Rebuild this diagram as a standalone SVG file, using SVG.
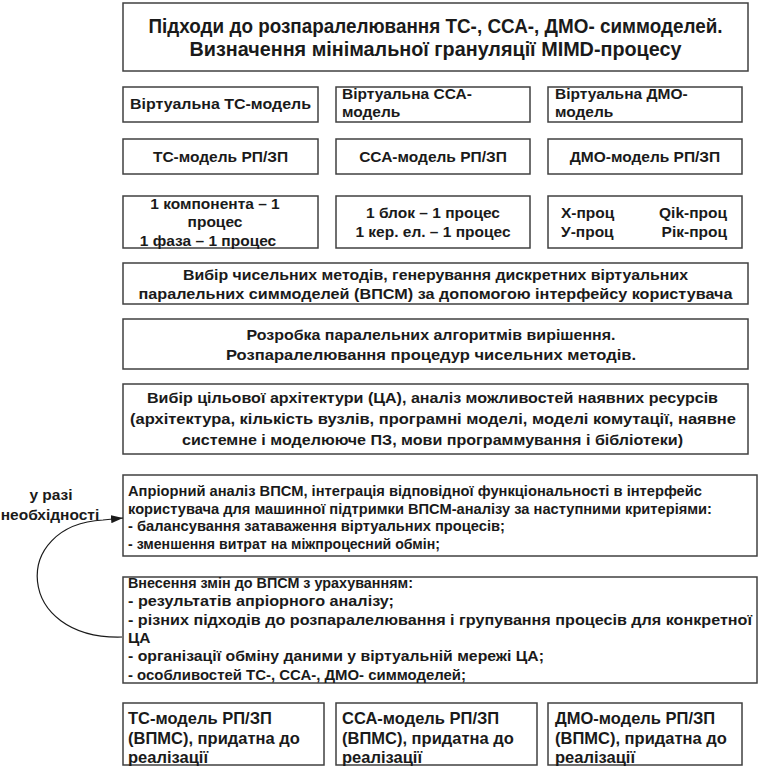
<svg xmlns="http://www.w3.org/2000/svg" width="761" height="770" viewBox="0 0 761 770">
<style>
rect{fill:#fff;stroke:#404040;stroke-width:1.5}
text{font-family:"Liberation Sans",Arial,sans-serif;font-weight:bold;fill:#1a1a1a;font-size:15.5px}
.t{font-size:20px}
.c{text-anchor:middle}
.b{font-size:16.5px}
.conn{fill:none;stroke:#1a1a1a;stroke-width:1.2}
</style>
<defs>
<marker id="ah" markerUnits="userSpaceOnUse" markerWidth="12" markerHeight="8" refX="12" refY="4" orient="auto">
<path d="M0,0 L12,4 L0,8 z" fill="#1a1a1a"/>
</marker>
</defs>
<rect width="761" height="770" style="fill:#fff;stroke:none"/>

<g id="title">
<rect x="123" y="3" width="625" height="68"/>
<text class="t c" x="435.5" y="33" textLength="574" lengthAdjust="spacingAndGlyphs">Підходи до розпаралелювання ТС-, ССА-, ДМО- симмоделей.</text>
<text class="t c" x="435.5" y="56" textLength="492" lengthAdjust="spacingAndGlyphs">Визначення мінімальної грануляції MIMD-процесу</text>
</g>

<g id="virt-tc">
<rect x="123" y="87" width="195" height="35"/>
<text class="c" x="220.5" y="109" textLength="181" lengthAdjust="spacingAndGlyphs">Віртуальна ТС-модель</text>
</g>
<g id="virt-cca">
<rect x="336" y="87" width="194" height="35"/>
<text x="342" y="99">Віртуальна ССА-</text>
<text x="342" y="117">модель</text>
</g>
<g id="virt-dmo">
<rect x="548" y="87" width="194" height="35"/>
<text x="555" y="99">Віртуальна ДМО-</text>
<text x="555" y="117">модель</text>
</g>

<g id="tc-rp">
<rect x="123" y="139" width="195" height="35"/>
<text class="c" x="220.5" y="162">ТС-модель РП/ЗП</text>
</g>
<g id="cca-rp">
<rect x="336" y="139" width="194" height="35"/>
<text class="c" x="433" y="162">ССА-модель РП/ЗП</text>
</g>
<g id="dmo-rp">
<rect x="548" y="139" width="194" height="35"/>
<text class="c" x="645" y="162">ДМО-модель РП/ЗП</text>
</g>

<g id="tc-proc">
<rect x="123" y="196" width="195" height="52"/>
<text class="c" x="215" y="209">1 компонента – 1</text>
<text class="c" x="215" y="227">процес</text>
<text class="c" x="208" y="245.5">1 фаза – 1 процес</text>
</g>
<g id="cca-proc">
<rect x="336" y="196" width="194" height="52"/>
<text class="c" x="433" y="218">1 блок – 1 процес</text>
<text class="c" x="433" y="236.5">1 кер. ел. – 1 процес</text>
</g>
<g id="dmo-proc">
<rect x="548" y="196" width="194" height="52"/>
<text x="561" y="218">Х-проц</text>
<text x="561" y="236.5">У-проц</text>
<text x="727" y="218" style="text-anchor:end">Qik-проц</text>
<text x="727" y="236.5" style="text-anchor:end">Рік-проц</text>
</g>

<g id="methods">
<rect x="123" y="263" width="625" height="41"/>
<text class="c" x="435.5" y="280" textLength="505" lengthAdjust="spacingAndGlyphs">Вибір чисельних методів, генерування дискретних віртуальних</text>
<text class="c" x="435.5" y="299" textLength="594" lengthAdjust="spacingAndGlyphs">паралельних симмоделей (ВПСМ) за допомогою інтерфейсу користувача</text>
</g>

<g id="algorithms">
<rect x="123" y="319" width="625" height="50"/>
<text class="c" x="431" y="340" textLength="369" lengthAdjust="spacingAndGlyphs">Розробка паралельних алгоритмів вирішення.</text>
<text class="c" x="431" y="360" textLength="410" lengthAdjust="spacingAndGlyphs">Розпаралелювання процедур чисельних методів.</text>
</g>

<g id="architecture">
<rect x="123" y="384" width="625" height="70"/>
<text class="c" x="432.5" y="403" textLength="571" lengthAdjust="spacingAndGlyphs">Вибір цільової архітектури (ЦА), аналіз можливостей наявних ресурсів</text>
<text class="c" x="433" y="424" textLength="606" lengthAdjust="spacingAndGlyphs">(архітектура, кількість вузлів, програмні моделі, моделі комутації, наявне</text>
<text class="c" x="432.5" y="445" textLength="501" lengthAdjust="spacingAndGlyphs">системне і моделююче ПЗ, мови программування і бібліотеки)</text>
</g>

<g id="analysis">
<rect x="123" y="475" width="634" height="81"/>
<text x="128" y="496" textLength="574" lengthAdjust="spacingAndGlyphs">Апріорний аналіз ВПСМ, інтеграція відповідної функціональності в інтерфейс</text>
<text x="128" y="513.5" textLength="584" lengthAdjust="spacingAndGlyphs">користувача для машинної підтримки ВПСМ-аналізу за наступними критеріями:</text>
<text x="128" y="531" textLength="377" lengthAdjust="spacingAndGlyphs">- балансування затаваження віртуальних процесів;</text>
<text x="128" y="548.5" textLength="312" lengthAdjust="spacingAndGlyphs">- зменшення витрат на міжпроцесний обмін;</text>
</g>

<g id="changes">
<rect x="123" y="577" width="634" height="106"/>
<text x="128" y="588" textLength="285" lengthAdjust="spacingAndGlyphs">Внесення змін до ВПСМ з урахуванням:</text>
<text x="128" y="606" textLength="266" lengthAdjust="spacingAndGlyphs">- результатів апріорного аналізу;</text>
<text x="128" y="624.5" textLength="624" lengthAdjust="spacingAndGlyphs">- різних підходів до розпаралелювання і групування процесів для конкретної</text>
<text x="128" y="643">ЦА</text>
<text x="128" y="661" textLength="416" lengthAdjust="spacingAndGlyphs">- організації обміну даними у віртуальній мережі ЦА;</text>
<text x="128" y="679.5" textLength="338" lengthAdjust="spacingAndGlyphs">- особливостей ТС-, ССА-, ДМО- симмоделей;</text>
</g>

<g id="tc-final">
<rect x="123" y="703" width="201" height="62"/>
<text class="b" x="128" y="724">ТС-модель РП/ЗП</text>
<text class="b" x="128" y="744">(ВПМС), придатна до</text>
<text class="b" x="128" y="763">реалізації</text>
</g>
<g id="cca-final">
<rect x="336" y="703" width="201" height="62"/>
<text class="b" x="342" y="724">ССА-модель РП/ЗП</text>
<text class="b" x="342" y="744">(ВПМС), придатна до</text>
<text class="b" x="342" y="763">реалізації</text>
</g>
<g id="dmo-final">
<rect x="548" y="703" width="194" height="62"/>
<text class="b" x="555" y="724">ДМО-модель РП/ЗП</text>
<text class="b" x="555" y="744">(ВПМС), придатна до</text>
<text class="b" x="555" y="763">реалізації</text>
</g>

<g id="connectors">
<path class="conn" d="M122,637 C15,640 10,525 103,520 L123,518" marker-end="url(#ah)"/>
<text class="c" x="51" y="500">у разі</text>
<text class="c" x="50" y="520">необхідності</text>
</g>
</svg>
